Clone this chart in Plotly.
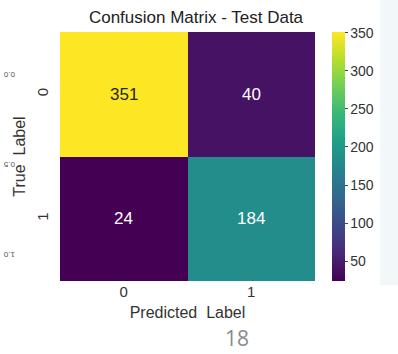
import plotly.graph_objects as go

# Confusion matrix counts (rows = true label, columns = predicted label)
labels = ["0", "1"]
counts = [[351, 40],
          [24, 184]]
cb_ticks = [50, 100, 150, 200, 250, 300, 350]

W, H = 398, 354
ML, MR, MT, MB = 60, 83, 32, 73
plot_w = W - ML - MR
plot_h = H - MT - MB

FONT = "Liberation Sans, Arial"

fig = go.Figure(go.Heatmap(
    z=counts, x=labels, y=labels,
    colorscale="Viridis",
    zmin=min(min(r) for r in counts), zmax=max(max(r) for r in counts),
    colorbar=dict(
        thickness=13, len=1.0, lenmode="fraction", y=0.5, yanchor="middle",
        x=1 + 17 / plot_w, xanchor="left", xpad=0, ypad=0,
        outlinewidth=0, tickvals=cb_ticks, ticks="outside", ticklen=3,
        tickcolor="#444", tickwidth=1,
        tickfont=dict(family=FONT, size=14, color="#333"),
    ),
    hoverinfo="skip",
))

vmax = max(max(r) for r in counts)
for i, row in enumerate(counts):
    for j, v in enumerate(row):
        fig.add_annotation(
            x=labels[j], y=labels[i], text=str(v), showarrow=False,
            font=dict(family=FONT, size=17,
                      color="#262626" if v > 0.7 * vmax else "white"),
        )

fig.update_layout(
    width=W, height=H,
    margin=dict(l=ML, r=MR, t=MT, b=MB),
    paper_bgcolor="white", plot_bgcolor="white",
    title=dict(text="Confusion Matrix - Test Data", x=196 / W, xanchor="center",
               y=1 - 17 / H, yanchor="middle",
               font=dict(family=FONT, size=17, color="#222")),
    xaxis=dict(
        title=dict(text="Predicted  Label", standoff=7,
                   font=dict(family=FONT, size=16, color="#333")),
        tickfont=dict(family=FONT, size=15, color="#333"),
        showgrid=False, zeroline=False, ticks="", ticklen=0,
    ),
    yaxis=dict(
        title=dict(text="True  Label", standoff=4,
                   font=dict(family=FONT, size=16, color="#333")),
        tickfont=dict(family=FONT, size=15, color="#333"),
        tickangle=-90, autorange="reversed", ticklabelstandoff=8,
        showgrid=False, zeroline=False, ticks="", ticklen=0,
    ),
    font=dict(family=FONT),
)

# light side panel at the right edge of the slide
fig.add_shape(type="rect", xref="paper", yref="paper",
              x0=(380 - ML) / plot_w, x1=(W + 5 - ML) / plot_w,
              y0=(H - MB - 285) / plot_h, y1=(H - MB + 5) / plot_h,
              fillcolor="#f2f7f9", line_width=0, layer="below")

# slide page number
fig.add_annotation(xref="paper", yref="paper",
                   x=(237 - ML) / plot_w, y=(H - MB - 338) / plot_h,
                   xanchor="center", yanchor="middle",
                   text="18", showarrow=False,
                   font=dict(family="Open Sans", size=21, color="#8a8a8a"))

# small rotated tick labels of a neighbouring chart at the left edge
for txt, yy in [("0.0", 75), ("0.5", 165), ("1.0", 255)]:
    fig.add_annotation(xref="paper", yref="paper",
                       x=(1 - ML) / plot_w, y=(H - MB - yy) / plot_h,
                       xanchor="left", yanchor="middle",
                       text=txt, showarrow=False, textangle=180,
                       font=dict(family=FONT, size=8, color="#555"))

fig.write_html("out.html")
